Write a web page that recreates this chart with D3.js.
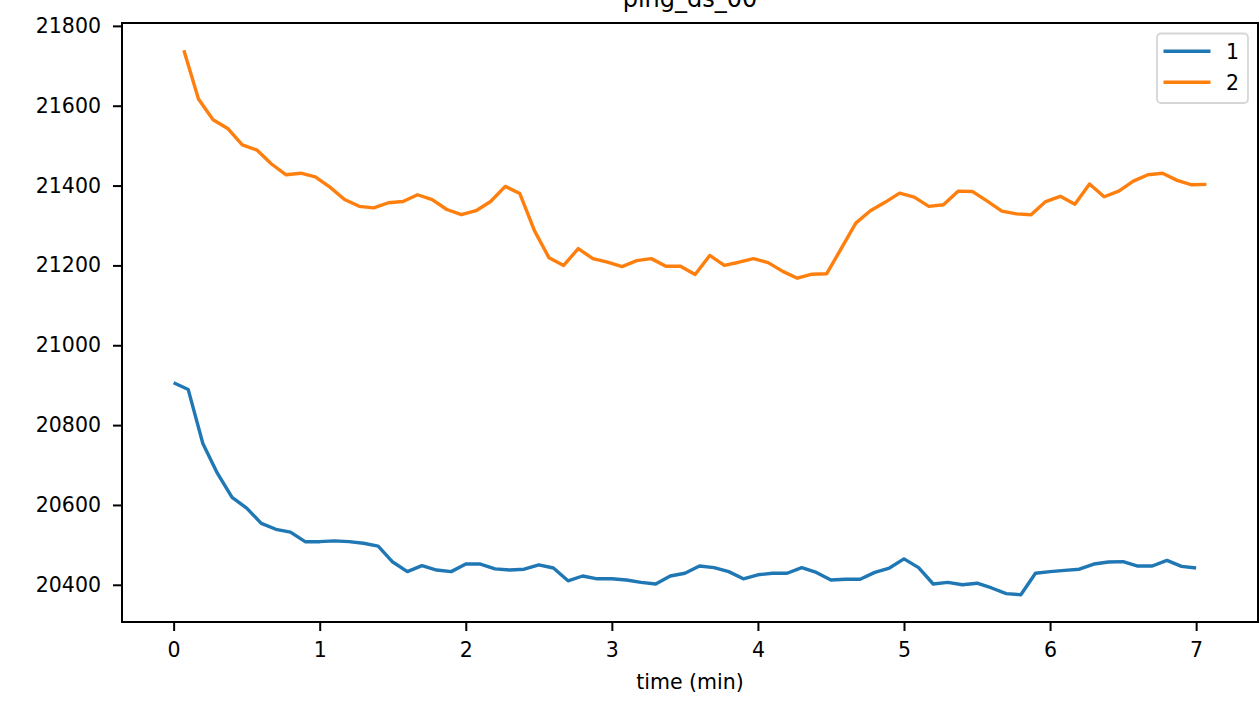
<!DOCTYPE html>
<html>
<head>
<meta charset="utf-8">
<script src="https://cdn.jsdelivr.net/npm/d3@7"></script>
<style>
  html, body { margin: 0; padding: 0; background: #fff; }
  svg { display: block; font-family: "DejaVu Sans", sans-serif; }
</style>
</head>
<body>
<svg id="chart" width="1259" height="707"></svg>
<script>
const title = "ping_ds_00";
const xLabel = "time (min)";
const seriesNames = ["1", "2"];
const seriesColors = ["#1f77b4", "#ff7f0e"];
const xTicks = [0, 1, 2, 3, 4, 5, 6, 7];
const yTicks = [20400, 20600, 20800, 21000, 21200, 21400, 21600, 21800];

const time1 = [0.0,0.1,0.2,0.3,0.4,0.5,0.6,0.7,0.8,0.9,1.0,1.1,1.2,1.3,1.4,1.5,1.6,1.7,1.8,1.9,
  2.0,2.1,2.2,2.3,2.4,2.5,2.6,2.7,2.8,2.9,3.0,3.1,3.2,3.3,3.4,3.5,3.6,3.7,3.8,3.9,
  4.0,4.1,4.2,4.3,4.4,4.5,4.6,4.7,4.8,4.9,5.0,5.1,5.2,5.3,5.4,5.5,5.6,5.7,5.8,5.9,
  6.0,6.1,6.2,6.3,6.4,6.5,6.6,6.7,6.8,6.9,7.0];
const values1 = [20906,20889,20754,20679,20619,20592,20554,20539,20532,20508,
  20508,20510,20508,20504,20497,20457,20433,20448,20437,20433,
  20452,20452,20440,20437,20439,20450,20442,20410,20422,20415,
  20415,20412,20406,20402,20422,20429,20447,20443,20433,20415,
  20425,20429,20429,20443,20431,20412,20414,20414,20431,20442,
  20465,20443,20402,20406,20400,20404,20392,20378,20375,20429,
  20433,20436,20439,20452,20457,20458,20447,20447,20461,20446,20442];

const time2 = [0.07,0.17,0.27,0.37,0.47,0.57,0.67,0.77,0.87,0.97,1.07,1.17,1.27,1.37,1.47,1.57,1.67,1.77,1.87,1.97,
  2.07,2.17,2.27,2.37,2.47,2.57,2.67,2.77,2.87,2.97,3.07,3.17,3.27,3.37,3.47,3.57,3.67,3.77,3.87,3.97,
  4.07,4.17,4.27,4.37,4.47,4.57,4.67,4.77,4.87,4.97,5.07,5.17,5.27,5.37,5.47,5.57,5.67,5.77,5.87,5.97,
  6.07,6.17,6.27,6.37,6.47,6.57,6.67,6.77,6.87,6.97,7.07];
const values2 = [21739,21617,21565,21543,21502,21489,21454,21427,21431,21422,
  21396,21365,21348,21344,21357,21360,21377,21365,21340,21327,
  21337,21360,21398,21380,21287,21219,21200,21242,21217,21208,
  21197,21212,21217,21198,21198,21177,21225,21200,21208,21217,
  21207,21185,21168,21178,21179,21242,21306,21337,21358,21381,
  21371,21348,21352,21386,21385,21361,21336,21329,21327,21360,
  21373,21353,21404,21372,21386,21411,21427,21431,21413,21402,21403];

const series = [
  { name: seriesNames[0], color: seriesColors[0], pts: time1.map((t, i) => [t, values1[i]]) },
  { name: seriesNames[1], color: seriesColors[1], pts: time2.map((t, i) => [t, values2[i]]) }
];

const svg = d3.select("#chart");
const plot = { left: 122, right: 1258, top: 23, bottom: 622 };

// matplotlib-like 5% margins
const allT = time1.concat(time2), allV = values1.concat(values2);
const tExt = d3.extent(allT), vExt = d3.extent(allV);
const tPad = (tExt[1] - tExt[0]) * 0.05, vPad = (vExt[1] - vExt[0]) * 0.05;

const x = d3.scaleLinear().domain([tExt[0] - tPad, tExt[1] + tPad]).range([plot.left, plot.right]);
const y = d3.scaleLinear().domain([vExt[0] - vPad, vExt[1] + vPad]).range([plot.bottom, plot.top]);

const line = d3.line().x(d => x(d[0])).y(d => y(d[1]));

const gLines = svg.append("g");
series.forEach(s => {
  gLines.append("path")
    .datum(s.pts)
    .attr("fill", "none")
    .attr("stroke", s.color)
    .attr("stroke-width", 3.4)
    .attr("stroke-linejoin", "round")
    .attr("stroke-linecap", "butt")
    .attr("d", line);
});

// axes
const xAxis = d3.axisBottom(x).tickValues(xTicks).tickFormat(d3.format("d")).tickSize(9).tickPadding(11);
const yAxis = d3.axisLeft(y).tickValues(yTicks).tickFormat(d3.format("d")).tickSize(9).tickPadding(12);

const gx = svg.append("g").attr("transform", `translate(0,${plot.bottom})`).call(xAxis);
const gy = svg.append("g").attr("transform", `translate(${plot.left},0)`).call(yAxis);
[gx, gy].forEach(g => {
  g.select(".domain").remove();
  g.selectAll(".tick line").attr("stroke", "#000").attr("stroke-width", 2);
  g.selectAll(".tick text").attr("fill", "#000").style("font-size", "20.5px").style("font-family", "DejaVu Sans");
});

// frame
svg.append("rect")
  .attr("x", plot.left).attr("y", plot.top)
  .attr("width", plot.right - plot.left).attr("height", plot.bottom - plot.top)
  .attr("fill", "none").attr("stroke", "#000").attr("stroke-width", 2);

// title
svg.append("text")
  .attr("x", (plot.left + plot.right) / 2).attr("y", 7)
  .attr("text-anchor", "middle")
  .style("font-size", "24px")
  .text(title);

// x label
svg.append("text")
  .attr("x", (plot.left + plot.right) / 2).attr("y", 689)
  .attr("text-anchor", "middle")
  .style("font-size", "20.5px")
  .text(xLabel);

// legend
const lg = svg.append("g");
lg.append("rect")
  .attr("x", 1157).attr("y", 33.5).attr("width", 91).attr("height", 69.5)
  .attr("rx", 4).attr("ry", 4)
  .attr("fill", "#fff").attr("fill-opacity", 0.8)
  .attr("stroke", "#d6d6d6").attr("stroke-width", 1.8);
series.forEach((s, i) => {
  const cy = 51.3 + i * 31;
  lg.append("line")
    .attr("x1", 1163.5).attr("x2", 1210.5)
    .attr("y1", cy).attr("y2", cy)
    .attr("stroke", s.color).attr("stroke-width", 3.4);
  lg.append("text")
    .attr("x", 1226).attr("y", cy + 7.3)
    .style("font-size", "20.5px")
    .text(s.name);
});
</script>
</body>
</html>
